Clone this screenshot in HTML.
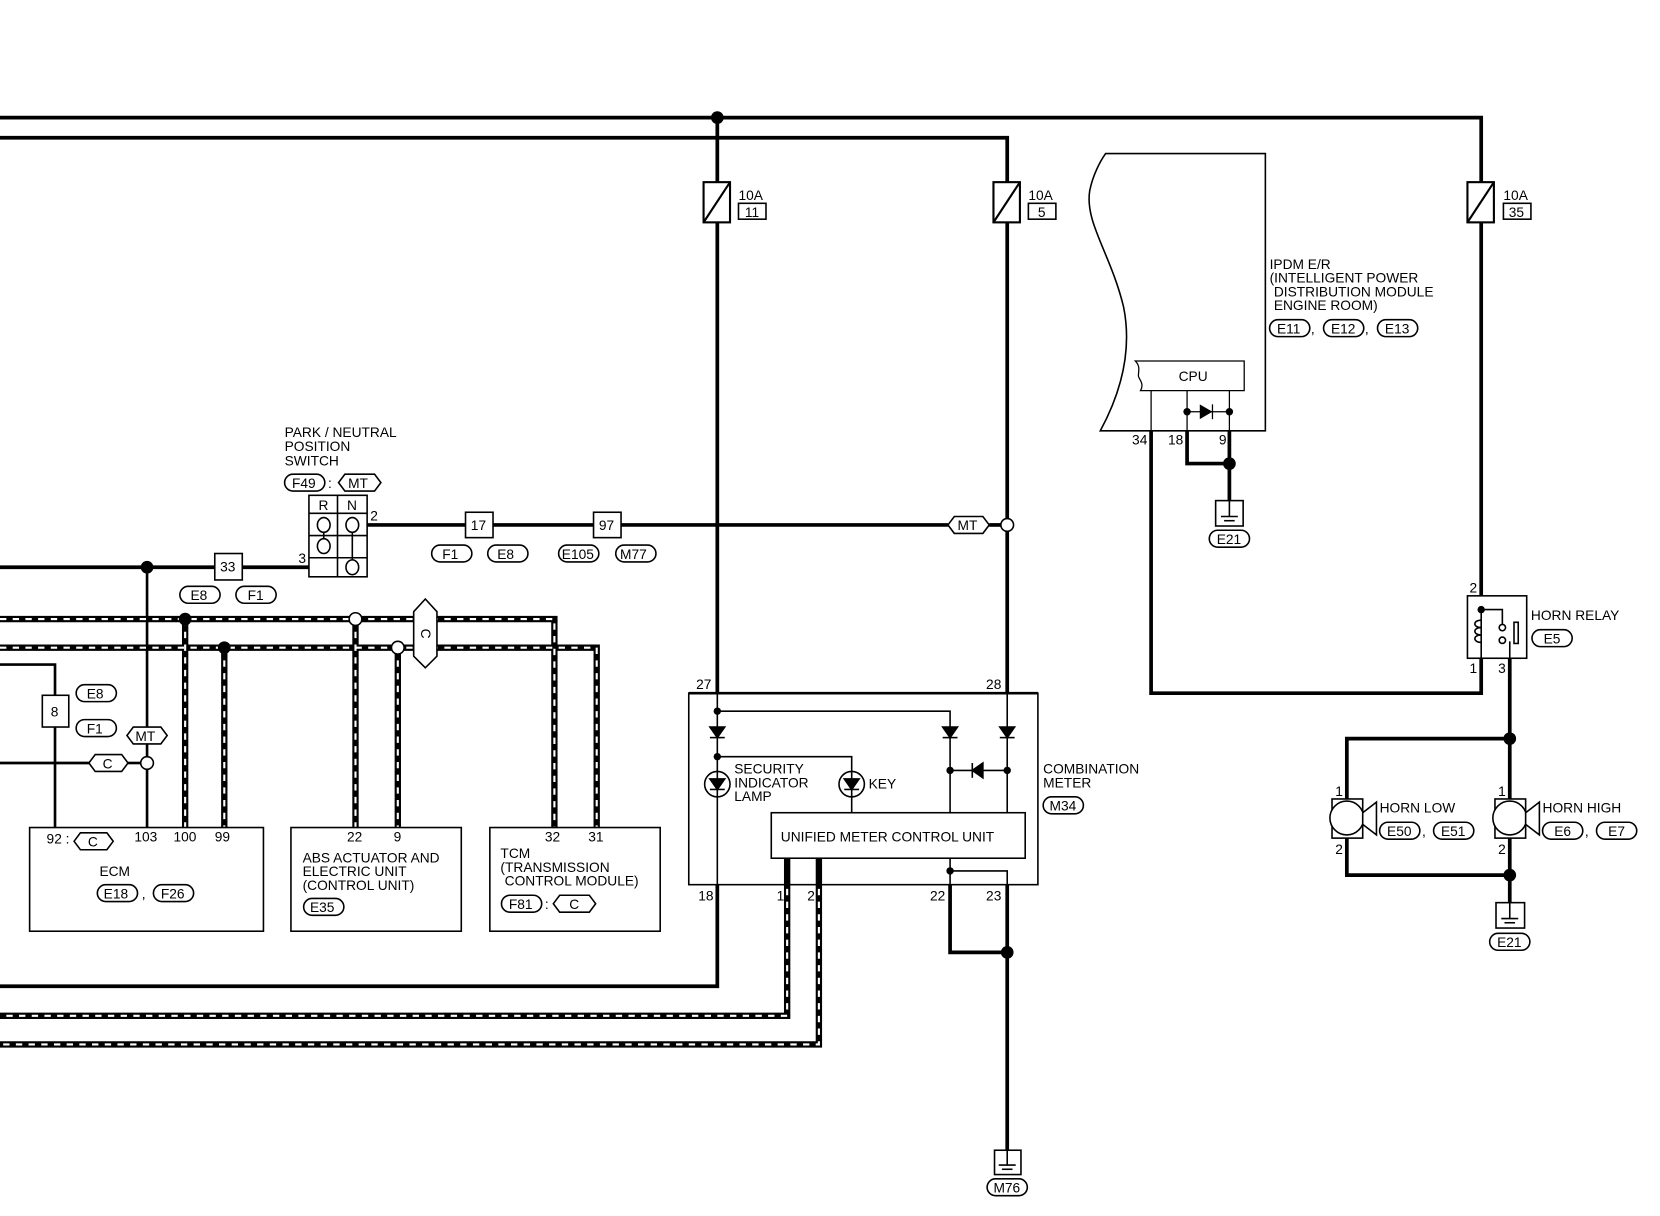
<!DOCTYPE html>
<html><head><meta charset="utf-8"><style>
html,body{margin:0;padding:0;background:#fff;}
svg{display:block;}
text{font-family:"Liberation Sans",sans-serif;font-size:13px;fill:#000;}
</style></head><body>
<svg width="1660" height="1216" viewBox="0 0 1569 1149" xmlns="http://www.w3.org/2000/svg">
<g fill="none" stroke="#000" stroke-width="3.5" stroke-linejoin="miter">
<!-- top lines -->
<polyline points="0,111 1400,111 1400,172"/>
<polyline points="0,130 952,130 952,172"/>
<line x1="678" y1="111" x2="678" y2="172"/>
<line x1="678" y1="210" x2="678" y2="655"/>
<line x1="952" y1="210" x2="952" y2="655"/>
<line x1="1400" y1="210" x2="1400" y2="563"/>
<!-- IPDM wires -->
<polyline points="1088,407 1088,655 1400,655 1400,622"/>
<polyline points="1122,407 1122,438 1162,438"/>
<polyline points="1162,407 1162,473"/>
<!-- horn -->
<polyline points="1427,622 1427,755"/>
<polyline points="1427,698 1273,698 1273,755"/>
<polyline points="1273,792 1273,827 1427,827"/>
<polyline points="1427,792 1427,853"/>
<!-- PNP switch -->
<line x1="347" y1="496" x2="896" y2="496"/>
<line x1="935" y1="496" x2="946" y2="496"/>
<line x1="0" y1="536" x2="292" y2="536"/>
<!-- left thin-ish wires -->
<polyline points="0,628 52,628 52,782" stroke-width="2.5"/>
<line x1="0" y1="721" x2="84" y2="721" stroke-width="2.5"/>
<line x1="121" y1="721" x2="133" y2="721" stroke-width="2.5"/>
<line x1="139" y1="536" x2="139" y2="782" stroke-width="2.5"/>
<!-- bottom -->
<polyline points="678,836 678,932 0,932"/>
<polyline points="898,836 898,900 952,900"/>
<polyline points="952,836 952,1087"/>
</g>
<!-- harness dashed lines -->
<g fill="none" stroke-linejoin="miter">
<g stroke="#000" stroke-width="6">
<polyline points="0,585 524,585 524,782"/>
<polyline points="0,612 564,612 564,782"/>
<line x1="175" y1="585" x2="175" y2="782"/>
<line x1="212" y1="612" x2="212" y2="782"/>
<line x1="336" y1="585" x2="336" y2="782"/>
<line x1="376" y1="612" x2="376" y2="782"/>
<polyline points="744,811 744,960 0,960"/>
<polyline points="774,811 774,987 0,987"/>
</g>
<g stroke="#fff" stroke-width="2" stroke-dasharray="6,6">
<polyline points="0,585 524,585 524,782"/>
<polyline points="0,612 564,612 564,782"/>
<line x1="175" y1="585" x2="175" y2="782"/>
<line x1="212" y1="612" x2="212" y2="782"/>
<line x1="336" y1="585" x2="336" y2="782"/>
<line x1="376" y1="612" x2="376" y2="782"/>
<polyline points="744,840 744,960 0,960"/>
<polyline points="774,840 774,987 0,987"/>
</g>
</g>
<!-- fuses -->
<g fill="#fff" stroke="#000" stroke-width="2">
<rect x="665" y="172" width="25" height="38"/><rect x="939" y="172" width="25" height="38"/><rect x="1387" y="172" width="25" height="38"/>
</g>
<g stroke="#000" stroke-width="2"><line x1="665" y1="210" x2="690" y2="172"/><line x1="939" y1="210" x2="964" y2="172"/><line x1="1387" y1="210" x2="1412" y2="172"/></g>
<g fill="#fff" stroke="#000" stroke-width="1.5">
<rect x="698" y="192" width="26" height="15"/><rect x="972" y="192" width="26" height="15"/><rect x="1421" y="192" width="26" height="15"/>
</g>
<text x="698" y="189">10A</text><text x="704" y="205">11</text>
<text x="972" y="189">10A</text><text x="981" y="205">5</text>
<text x="1421" y="189">10A</text><text x="1426" y="205">35</text>
<!-- junctions filled -->
<g fill="#000">
<circle cx="678" cy="111" r="6"/><circle cx="139" cy="536" r="6"/><circle cx="175" cy="585" r="6"/><circle cx="212" cy="612" r="6"/>
<circle cx="1162" cy="438" r="6"/><circle cx="1427" cy="698" r="6"/><circle cx="1427" cy="827" r="6"/><circle cx="952" cy="900" r="6"/>
</g>
<g fill="#fff" stroke="#000" stroke-width="1.5">
<circle cx="952" cy="496" r="6"/><circle cx="336" cy="585" r="6"/><circle cx="376" cy="612" r="6"/><circle cx="139" cy="721" r="6"/>
</g>
<!-- IPDM -->
<path d="M1045,145 L1196,145 L1196,407 L1040,407 C1060,370 1070,330 1062,290 C1050,240 1025,210 1030,180 C1033,165 1040,152 1045,145 Z" fill="none" stroke="#000" stroke-width="1.5"/>
<path d="M1073,341 L1176,341 L1176,369 L1078,369 C1082,362 1076,358 1076,355 C1076,350 1078,346 1073,341 Z" fill="#fff" stroke="#000" stroke-width="1.2"/>
<text x="1114" y="360">CPU</text>
<g stroke="#000" stroke-width="1.2"><line x1="1088" y1="369" x2="1088" y2="407"/><line x1="1122" y1="369" x2="1122" y2="407"/><line x1="1162" y1="369" x2="1162" y2="407"/><line x1="1122" y1="389" x2="1162" y2="389"/><line x1="1146" y1="382" x2="1146" y2="396"/></g>
<polygon points="1134,382 1146,389 1134,396" fill="#000"/>
<circle cx="1122" cy="389" r="3.5"/><circle cx="1162" cy="389" r="3.5"/>
<text x="1070" y="420">34</text><text x="1104" y="420">18</text><text x="1152" y="420">9</text>
<text x="1200" y="254">IPDM E/R</text><text x="1200" y="267">(INTELLIGENT POWER</text><text x="1204" y="280">DISTRIBUTION MODULE</text><text x="1204" y="293">ENGINE ROOM)</text>
<!-- ovals -->
<g fill="#fff" stroke="#000" stroke-width="1.5">
<rect x="1200" y="302" width="38" height="16" rx="8"/><rect x="1251" y="302" width="38" height="16" rx="8"/><rect x="1302" y="302" width="38" height="16" rx="8"/>
<rect x="1143" y="501" width="38" height="16" rx="8"/>
<rect x="1448" y="595" width="38" height="16" rx="8"/>
<rect x="1304" y="777" width="38" height="16" rx="8"/><rect x="1355" y="777" width="38" height="16" rx="8"/>
<rect x="1458" y="777" width="38" height="16" rx="8"/><rect x="1509" y="777" width="38" height="16" rx="8"/>
<rect x="1408" y="882" width="38" height="16" rx="8"/>
<rect x="933" y="1114" width="38" height="16" rx="8"/>
<rect x="986" y="753" width="38" height="16" rx="8"/>
<rect x="269" y="448" width="38" height="16" rx="8"/>
<rect x="408" y="515" width="38" height="16" rx="8"/><rect x="461" y="515" width="38" height="16" rx="8"/>
<rect x="528" y="515" width="38" height="16" rx="8"/><rect x="582" y="515" width="38" height="16" rx="8"/>
<rect x="170" y="554" width="38" height="16" rx="8"/><rect x="223" y="554" width="38" height="16" rx="8"/>
<rect x="72" y="647" width="38" height="16" rx="8"/><rect x="72" y="680" width="38" height="16" rx="8"/>
<rect x="92" y="836" width="38" height="16" rx="8"/><rect x="145" y="836" width="38" height="16" rx="8"/>
<rect x="287" y="849" width="38" height="16" rx="8"/>
<rect x="474" y="846" width="38" height="16" rx="8"/>
</g>
<text x="1207" y="315">E11</text><text x="1258" y="315">E12</text><text x="1309" y="315">E13</text>
<text x="1239" y="315">,</text><text x="1290" y="315">,</text>
<text x="1150" y="514">E21</text><text x="1459" y="608">E5</text>
<text x="1311" y="790">E50</text><text x="1362" y="790">E51</text><text x="1344" y="790">,</text>
<text x="1469" y="790">E6</text><text x="1520" y="790">E7</text><text x="1498" y="790">,</text>
<text x="1415" y="895">E21</text><text x="939" y="1127">M76</text><text x="992" y="766">M34</text>
<text x="276" y="461">F49</text><text x="310" y="461">:</text>
<text x="418" y="528">F1</text><text x="470" y="528">E8</text><text x="531" y="528">E105</text><text x="586" y="528">M77</text>
<text x="180" y="567">E8</text><text x="234" y="567">F1</text>
<text x="82" y="660">E8</text><text x="82" y="693">F1</text>
<text x="98" y="849">E18</text><text x="152" y="849">F26</text><text x="134" y="849">,</text>
<text x="293" y="862">E35</text><text x="481" y="859">F81</text><text x="515" y="859">:</text>
<!-- hexes -->
<g fill="#fff" stroke="#000" stroke-width="1.5">
<polygon points="320,456 326,448 354,448 360,456 354,464 326,464"/>
<polygon points="896,496 902,488 929,488 935,496 929,504 902,504"/>
<polygon points="120,695 126,687 152,687 158,695 152,703 126,703"/>
<polygon points="84,721 90,713 115,713 121,721 115,729 90,729"/>
<polygon points="70,795 76,787 101,787 107,795 101,803 76,803"/>
<polygon points="523,854 529,846 557,846 563,854 557,862 529,862"/>
<polygon points="402,566 413,578 413,620 402,631 391,620 391,578"/>
</g>
<text x="329" y="461">MT</text><text x="905" y="501">MT</text><text x="128" y="700">MT</text>
<text x="97" y="726">C</text><text x="83" y="800">C</text><text x="538" y="859">C</text>
<text x="397" y="603" transform="rotate(90 402 599)">C</text>
<!-- PNP switch -->
<g fill="none" stroke="#000" stroke-width="1.5">
<rect x="292" y="468" width="55" height="77"/>
<line x1="319" y1="468" x2="319" y2="545"/><line x1="292" y1="485" x2="347" y2="485"/><line x1="292" y1="506" x2="347" y2="506"/><line x1="292" y1="527" x2="347" y2="527"/>
<ellipse cx="306" cy="496" rx="6" ry="7"/><ellipse cx="306" cy="516" rx="6" ry="7"/><ellipse cx="333" cy="496" rx="6" ry="7"/><ellipse cx="333" cy="536" rx="6" ry="7"/>
<line x1="306" y1="503" x2="306" y2="509"/><line x1="333" y1="503" x2="333" y2="529"/>
</g>
<text x="301" y="482" font-size="12">R</text><text x="328" y="482" font-size="12">N</text>
<text x="350" y="492">2</text><text x="282" y="532">3</text>
<text x="269" y="413">PARK / NEUTRAL</text><text x="269" y="426">POSITION</text><text x="269" y="440">SWITCH</text>
<g fill="#fff" stroke="#000" stroke-width="1.5">
<rect x="440" y="484" width="26" height="24"/><rect x="561" y="484" width="26" height="24"/><rect x="203" y="523" width="26" height="25"/><rect x="40" y="657" width="25" height="30"/>
</g>
<text x="445" y="501">17</text><text x="566" y="501">97</text><text x="208" y="540">33</text><text x="48" y="677">8</text>
<!-- modules -->
<g fill="none" stroke="#000" stroke-width="1.5">
<rect x="28" y="782" width="221" height="98"/><rect x="275" y="782" width="161" height="98"/><rect x="463" y="782" width="161" height="98"/>
</g>
<text x="44" y="797">92</text><text x="62" y="797">:</text><text x="127" y="795">103</text><text x="164" y="795">100</text><text x="203" y="795">99</text>
<text x="94" y="828">ECM</text>
<text x="328" y="795">22</text><text x="372" y="795">9</text>
<text x="286" y="815">ABS ACTUATOR AND</text><text x="286" y="828">ELECTRIC UNIT</text><text x="286" y="841">(CONTROL UNIT)</text>
<text x="515" y="795">32</text><text x="556" y="795">31</text>
<text x="473" y="811">TCM</text><text x="473" y="824">(TRANSMISSION</text><text x="477" y="837">CONTROL MODULE)</text>
<!-- combination meter -->
<rect x="651" y="655" width="330" height="181" fill="none" stroke="#000" stroke-width="1.5"/>
<line x1="651" y1="655" x2="981" y2="655" stroke="#000" stroke-width="2.5"/>
<g fill="none" stroke="#000" stroke-width="1.5">
<line x1="678" y1="655" x2="678" y2="836"/>
<polyline points="678,672 898,672 898,768"/>
<polyline points="678,715 805,715 805,768"/>
<line x1="952" y1="655" x2="952" y2="768"/>
<line x1="898" y1="728" x2="952" y2="728"/>
<circle cx="678" cy="741" r="12"/><circle cx="805" cy="741" r="12"/>
<line x1="898" y1="811" x2="898" y2="836"/>
<polyline points="898,823 952,823 952,836"/>
<line x1="744" y1="811" x2="744" y2="836" stroke-width="3"/><line x1="774" y1="811" x2="774" y2="836" stroke-width="3"/>
</g>
<rect x="729" y="768" width="240" height="43" fill="#fff" stroke="#000" stroke-width="1.5"/>
<text x="738" y="795">UNIFIED METER CONTROL UNIT</text>
<g fill="#000" stroke="#000" stroke-width="1.5">
<polygon points="671,687 685,687 678,697"/><line x1="671" y1="697" x2="685" y2="697"/>
<polygon points="891,687 905,687 898,697"/><line x1="891" y1="697" x2="905" y2="697"/>
<polygon points="945,687 959,687 952,697"/><line x1="945" y1="697" x2="959" y2="697"/>
<polygon points="671,736 685,736 678,746"/><line x1="671" y1="746" x2="685" y2="746"/>
<polygon points="798,736 812,736 805,746"/><line x1="798" y1="746" x2="812" y2="746"/>
<polygon points="929,721 929,735 919,728"/><line x1="919" y1="721" x2="919" y2="735"/>
</g>
<g fill="#000"><circle cx="678" cy="672" r="3.5"/><circle cx="678" cy="715" r="3.5"/><circle cx="898" cy="728" r="3.5"/><circle cx="952" cy="728" r="3.5"/><circle cx="898" cy="823" r="3.5"/></g>
<text x="694" y="731">SECURITY</text><text x="694" y="744">INDICATOR</text><text x="694" y="757">LAMP</text><text x="821" y="745">KEY</text>
<text x="658" y="651">27</text><text x="932" y="651">28</text>
<text x="660" y="851">18</text><text x="734" y="851">1</text><text x="763" y="851">2</text><text x="879" y="851">22</text><text x="932" y="851">23</text>
<text x="986" y="731">COMBINATION</text><text x="986" y="744">METER</text>
<!-- grounds -->
<g fill="#fff" stroke="#000" stroke-width="1.5">
<rect x="1149" y="473" width="26" height="24"/><rect x="1414" y="853" width="27" height="24"/><rect x="940" y="1087" width="25" height="23"/>
</g>
<g stroke="#000" stroke-width="1.5">
<line x1="1162" y1="473" x2="1162" y2="488"/><line x1="1154" y1="488" x2="1170" y2="488"/><line x1="1157" y1="492" x2="1167" y2="492"/>
<line x1="1427" y1="853" x2="1427" y2="868"/><line x1="1419" y1="868" x2="1435" y2="868"/><line x1="1422" y1="872" x2="1432" y2="872"/>
<line x1="952" y1="1087" x2="952" y2="1101"/><line x1="944" y1="1101" x2="960" y2="1101"/><line x1="947" y1="1105" x2="957" y2="1105"/>
</g>
<!-- horn relay -->
<rect x="1387" y="563" width="56" height="59" fill="#fff" stroke="#000" stroke-width="1.5"/>
<g fill="none" stroke="#000" stroke-width="1.5">
<line x1="1400" y1="576" x2="1400" y2="622"/>
<polyline points="1400,576 1420,576 1420,590"/>
<line x1="1427" y1="606" x2="1427" y2="622"/>
<circle cx="1420" cy="593" r="3"/><circle cx="1420" cy="605" r="3"/>
<rect x="1431" y="588" width="4" height="20"/>
<path d="M1400,586 c-8,0 -8,7 0,7 c-8,0 -8,7 0,7 c-8,0 -8,7 0,7"/>
</g>
<circle cx="1400" cy="576" r="3.5" fill="#000"/>
<text x="1389" y="560">2</text><text x="1389" y="636">1</text><text x="1416" y="636">3</text>
<text x="1447" y="586">HORN RELAY</text>
<!-- horns -->
<g fill="#fff" stroke="#000" stroke-width="1.5">
<rect x="1259" y="755" width="29" height="37"/><circle cx="1273" cy="773" r="16"/>
<polygon points="1288,768 1301,758 1301,789 1288,779"/>
<rect x="1413" y="755" width="29" height="37"/><circle cx="1427" cy="773" r="16"/>
<polygon points="1442,768 1455,758 1455,789 1442,779"/>
</g>
<text x="1262" y="752">1</text><text x="1262" y="807">2</text><text x="1416" y="752">1</text><text x="1416" y="807">2</text>
<text x="1304" y="768">HORN LOW</text><text x="1458" y="768">HORN HIGH</text>
</svg>
</body></html>
